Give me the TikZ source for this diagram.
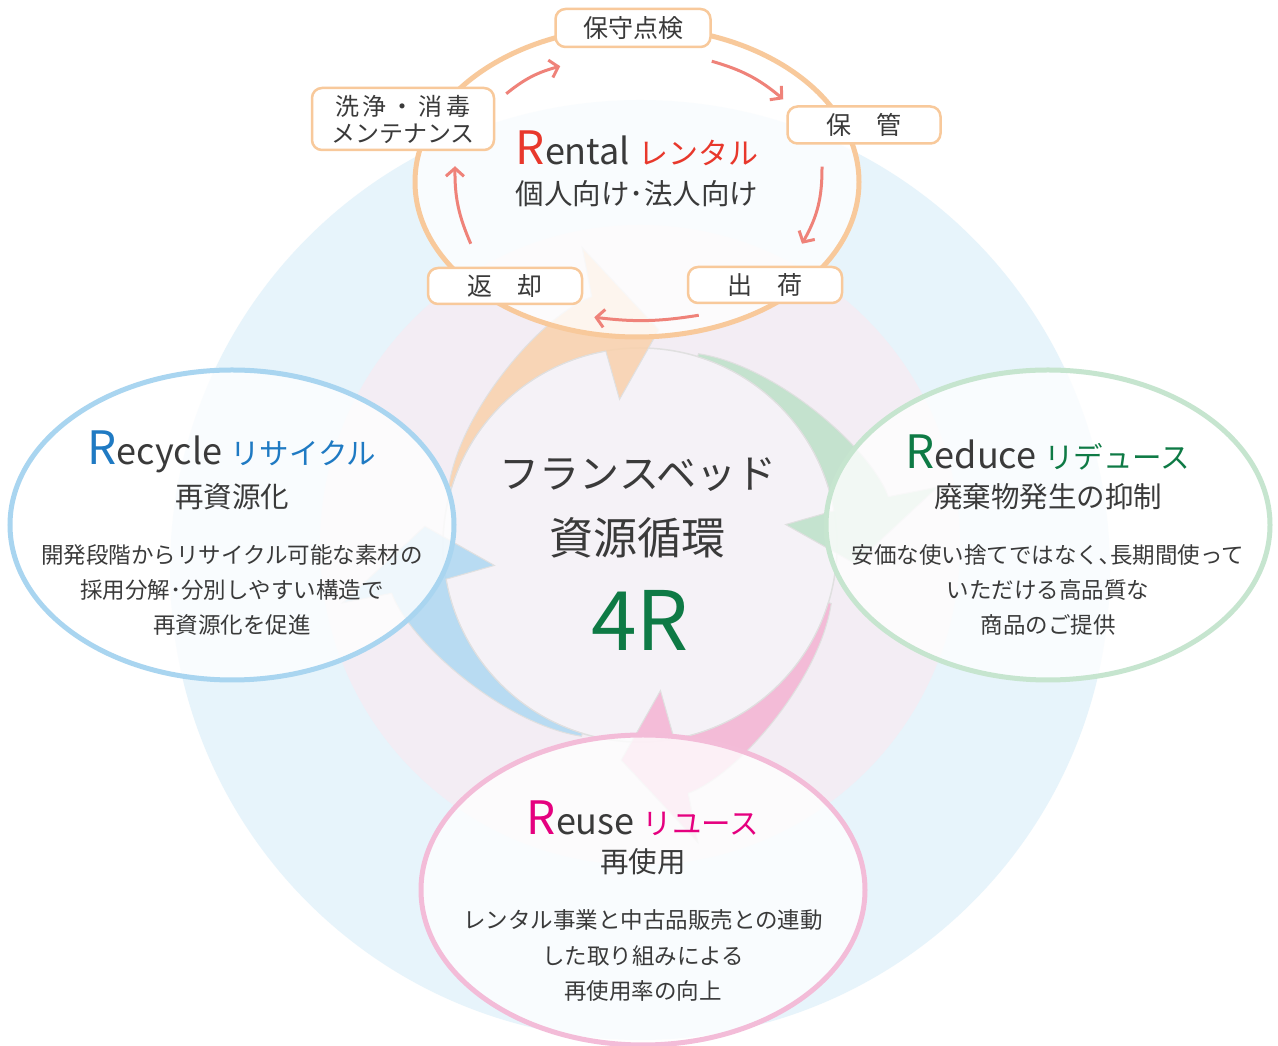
\documentclass[tikz,border=0pt]{standalone}
\usepackage{fontspec}
\setmainfont{Noto Sans CJK JP}
\usetikzlibrary{shapes.geometric,arrows.meta,calc}

\definecolor{bgblue}{HTML}{E7F4FB}
\definecolor{ringpink}{HTML}{F3EDF4}
\definecolor{corefill}{HTML}{F5F2F7}
\definecolor{txt}{HTML}{3A3A3A}
\definecolor{rentred}{HTML}{E8382C}
\definecolor{recblue}{HTML}{1F7AC3}
\definecolor{redgreen}{HTML}{0E7A45}
\definecolor{reumag}{HTML}{E5007F}
\definecolor{edgeorange}{HTML}{F8C99B}
\definecolor{edgeblue}{HTML}{A9D5F0}
\definecolor{edgegreen}{HTML}{C6E5CF}
\definecolor{edgepink}{HTML}{F3BCD8}
\definecolor{cycred}{HTML}{EF8279}
\definecolor{arrorange}{HTML}{F9D1AC}
\definecolor{arrgreen}{HTML}{BCE1C8}
\definecolor{arrpink}{HTML}{F4B3D3}
\definecolor{arrblue}{HTML}{AED8F2}

\begin{document}
\begin{tikzpicture}[x=1pt,y=1pt,
  stage/.style={ellipse, minimum width=444pt, minimum height=310pt, line width=5pt, fill=white, fill opacity=.78, text opacity=1},
  stepbox/.style={draw=edgeorange, line width=2.5pt, rounded corners=10pt, fill=white, text=txt, inner sep=0pt, font=\fontsize{25}{30}\selectfont},
  cyc/.style={draw=cycred, line width=3pt, -{Straight Barb[length=8pt,width=18pt]}},
  headline/.style={text=txt, font=\fontsize{36}{36}\selectfont},
  subline/.style={text=txt, font=\fontsize{28.5}{30}\selectfont},
  body/.style={text=txt, align=center, font=\fontsize{22.5}{35}\selectfont},
]
\useasboundingbox (0,0) rectangle (1278,1046);
\clip (0,0) rectangle (1278,1046);
\fill[white] (0,0) rectangle (1278,1046);

% background circles
\fill[bgblue] (640,476) circle (470);
\fill[ringpink] (640,501) circle (320);
\coordinate (C) at (640,501);
\filldraw[fill=corefill, draw=black!12, line width=1.5pt] (C) circle (197);

% clockwise arrows
\foreach \s/\col in {98/arrorange, 8/arrgreen, -82/arrpink, -172/arrblue}
  \filldraw[fill=\col, fill opacity=.85, draw=black!12, line width=1pt, shift={(C)}, rotate=\s]
    (65:200) .. controls (45:225) and (15:250) .. (3:253) -- (3:303) -- (-13:216) -- (0:147) -- (2:197)
    arc[start angle=2, end angle=65, radius=197] -- cycle;

% centre
\node[text=txt, font=\fontsize{40}{40}\selectfont] (brand) at (638,571) {フランスベッド};
\node[text=txt, font=\fontsize{44}{44}\selectfont] (loop) at (637,508) {資源循環};
\node[text=redgreen, font=\fontsize{82}{82}\selectfont] (fourR) at (640,426) {4R};

% the four R
\node[stage, draw=edgeblue] (recycle) at (232,521) {};
\node[stage, draw=edgegreen] (reduce) at (1048,521) {};
\node[stage, draw=edgepink] (reuse) at (643,156) {};
\node[stage, draw=edgeorange] (rental) at (637,864) {};

\node[headline] (rentalt) at ([yshift=34pt]rental.center)
  {{\color{rentred}\fontsize{46}{46}\selectfont R}ental {\color{rentred}\fontsize{30}{30}\selectfont レンタル}};
\node[subline] (rentals) at ([yshift=-12pt]rental.center) {個人向け･法人向け};

\node[headline] (recyclet) at ([yshift=73pt]recycle.center)
  {{\color{recblue}\fontsize{46}{46}\selectfont R}ecycle {\color{recblue}\fontsize{29.5}{30}\selectfont リサイクル}};
\node[subline] (recycles) at ([yshift=28pt]recycle.center) {再資源化};
\node[body] (recycleb) at ([yshift=-65pt]recycle.center)
  {開発段階からリサイクル可能な素材の\\採用分解･分別しやすい構造で\\再資源化を促進};

\node[headline] (reducet) at ([yshift=73pt]reduce.center)
  {{\color{redgreen}\fontsize{46}{46}\selectfont R}educe {\color{redgreen}\fontsize{29.5}{30}\selectfont リデュース}};
\node[subline] (reduces) at ([yshift=28pt]reduce.center) {廃棄物発生の抑制};
\node[body, font=\fontsize{22.5}{35}\selectfont] (reduceb) at ([yshift=-65pt]reduce.center)
  {安価な使い捨てではなく､長期間使って\\いただける高品質な\\商品のご提供};

\node[headline] (reuset) at ([yshift=72pt]reuse.center)
  {{\color{reumag}\fontsize{46}{46}\selectfont R}euse {\color{reumag}\fontsize{29.5}{30}\selectfont リユース}};
\node[subline] (reuses) at ([yshift=28pt]reuse.center) {再使用};
\node[body, font=\fontsize{22.5}{35.5}\selectfont] (reuseb) at ([yshift=-66pt]reuse.center)
  {レンタル事業と中古品販売との連動\\した取り組みによる\\再使用率の向上};

% rental steps
\node[stepbox, minimum width=155pt, minimum height=38pt] (check) at (633,1018) {保守点検};
\node[stepbox, minimum width=182pt, minimum height=62pt, align=center, font=\fontsize{24}{27}\selectfont] (wash) at (403,927)
  {洗\hspace{4pt}浄\hspace{4pt}・\hspace{4pt}消\hspace{4pt}毒\\メンテナンス};
\node[stepbox, minimum width=153pt, minimum height=37pt] (store) at (864,921) {保　管};
\node[stepbox, minimum width=154pt, minimum height=36pt] (ship) at (765,761) {出　荷};
\node[stepbox, minimum width=154pt, minimum height=36pt] (back) at (505,760) {返　却};

\draw[cyc] ($(wash.north east)+(11,-7)$) to[bend left=12] ($(check.south west)+(6,-18)$);
\draw[cyc] ($(check.south east)+(0,-13)$) to[bend left=12] ($(store.north west)+(-3,6)$);
\draw[cyc] ($(store.south)+(-42,-22)$) to[bend left=15] ($(ship.north)+(37,22)$);
\draw[cyc] ($(ship.south west)+(12,-11)$) to[bend left=8] ($(back.south east)+(11,-12)$);
\draw[cyc] ($(back.north west)+(44,23)$) to[bend left=12] ($(wash.south)+(52,-15)$);
\end{tikzpicture}
\end{document}
